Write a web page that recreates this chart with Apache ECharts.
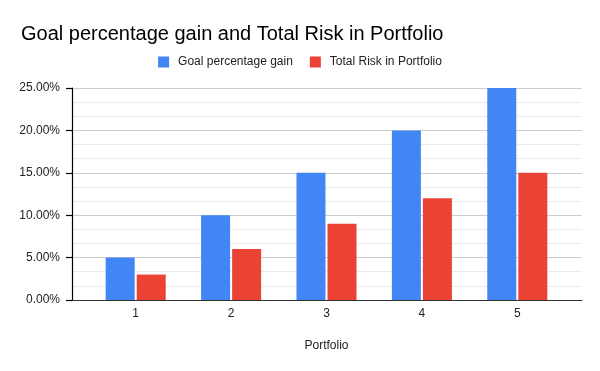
<!DOCTYPE html>
<html><head><meta charset="utf-8">
<script src="https://cdn.jsdelivr.net/npm/echarts@6/dist/echarts.min.js"></script>
<style>html,body{margin:0;padding:0;background:#fff}#c{width:600px;height:371px}</style>
</head><body><div id="c"></div>
<script>
const categories = ['1', '2', '3', '4', '5'];
const goalGain = [5, 10, 15, 20, 25];
const totalRisk = [3, 6, 9, 12, 15];
const yTicks = [0, 5, 10, 15, 20, 25];

const FONT = 'Arial, "Liberation Sans", sans-serif';
const chart = echarts.init(document.getElementById('c'));
chart.setOption({
  animation: false,
  textStyle: { fontFamily: FONT },
  title: {
    text: 'Goal percentage gain and Total Risk in Portfolio',
    left: 16, top: 19,
    textStyle: { fontFamily: FONT, fontSize: 20, fontWeight: 'normal', color: '#000' }
  },
  legend: {
    top: 51, left: 'center',
    itemWidth: 11, itemHeight: 11, itemGap: 17,
    icon: 'rect',
    textStyle: { fontFamily: FONT, fontSize: 12, color: '#222', padding: [0, 0, 0, 4] },
    data: ['Goal percentage gain', 'Total Risk in Portfolio']
  },
  grid: [
    { left: 72, right: 18, top: 88, bottom: 71 },
    { left: 88, right: 35, top: 88, bottom: 71 }
  ],
  xAxis: [
    { gridIndex: 0, type: 'category', data: categories,
      axisLine: { show: true, lineStyle: { color: '#333', width: 1 } },
      axisTick: { show: false }, axisLabel: { show: false } },
    { gridIndex: 1, type: 'category', data: categories,
      axisLine: { show: false }, axisTick: { show: false },
      axisLabel: { fontFamily: FONT, fontSize: 12, color: '#222', margin: 8 },
      name: 'Portfolio', nameLocation: 'middle', nameGap: 40,
      nameTextStyle: { fontFamily: FONT, fontSize: 12, color: '#222' } }
  ],
  yAxis: [
    { gridIndex: 0, type: 'value', position: 'left', min: yTicks[0], max: yTicks[yTicks.length - 1], interval: 5,
      axisLine: { show: true, onZero: false, lineStyle: { color: '#000', width: 1.2 } },
      axisTick: { show: true, inside: false, length: 6, lineStyle: { color: '#000', width: 1.2 } },
      axisLabel: { fontFamily: FONT, fontSize: 12, color: '#222', margin: 12,
        formatter: v => v.toFixed(2) + '%' },
      splitLine: { show: true, lineStyle: { color: '#cccccc' } },
      minorTick: { show: false, splitNumber: 3 },
      minorSplitLine: { show: true, lineStyle: { color: '#ebebeb' } } },
    { gridIndex: 1, type: 'value', min: 0, max: 25, interval: 5, show: false,
      splitLine: { show: false } }
  ],
  series: [
    { name: 'Goal percentage gain', type: 'bar', xAxisIndex: 1, yAxisIndex: 1,
      data: goalGain, itemStyle: { color: '#4285f4' }, barWidth: 29, barGap: '7%' },
    { name: 'Total Risk in Portfolio', type: 'bar', xAxisIndex: 1, yAxisIndex: 1,
      data: totalRisk, itemStyle: { color: '#ea4335' }, barWidth: 29, barGap: '7%' }
  ]
});
</script></body></html>
